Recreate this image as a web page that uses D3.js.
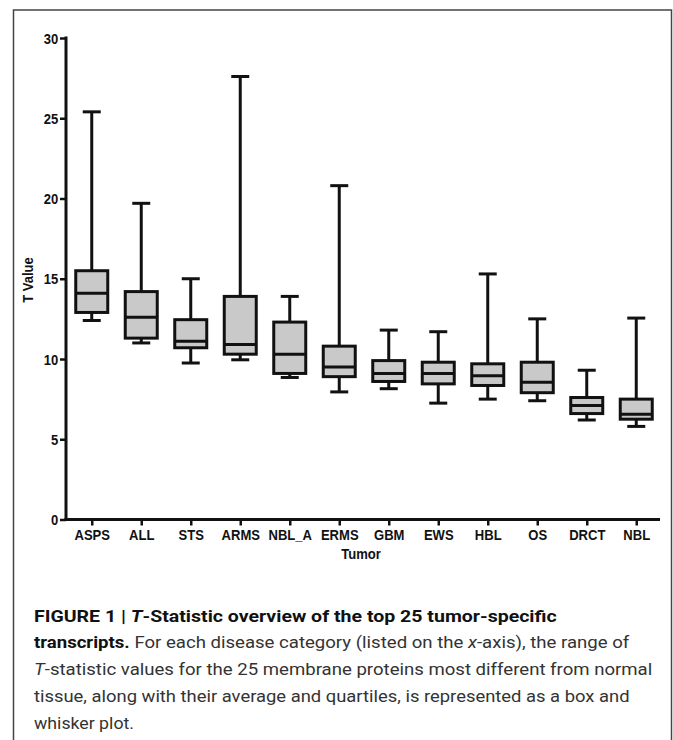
<!DOCTYPE html>
<html>
<head>
<meta charset="utf-8">
<script src="https://cdn.jsdelivr.net/npm/d3@7"></script>
<style>
  html, body { margin: 0; padding: 0; background: #fff; }
  svg { display: block; }
</style>
</head>
<body>
<script>
const categories = ["ASPS", "ALL", "STS", "ARMS", "NBL_A", "ERMS", "GBM", "EWS", "HBL", "OS", "DRCT", "NBL"];
const whiskerLow = [12.4, 11.0, 9.75, 9.95, 8.85, 7.95, 8.15, 7.25, 7.5, 7.4, 6.2, 5.8];
const q1 = [12.9, 11.3, 10.7, 10.3, 9.1, 8.9, 8.6, 8.45, 8.35, 7.9, 6.6, 6.25];
const median = [14.1, 12.6, 11.1, 10.9, 10.3, 9.5, 9.1, 9.1, 8.95, 8.55, 7.1, 6.55];
const q3 = [15.5, 14.2, 12.45, 13.9, 12.3, 10.8, 9.9, 9.8, 9.7, 9.8, 7.6, 7.5];
const whiskerHigh = [25.4, 19.7, 15.0, 27.6, 13.9, 20.8, 11.8, 11.7, 15.3, 12.5, 9.3, 12.55];
const yTicks = [0, 5, 10, 15, 20, 25, 30];

const w = 673;
const h = 740;
const boxW = 32;
const capW = 18;
const axisFont = "'Liberation Sans', Arial, Helvetica, sans-serif";
const squeeze = 0.9; // labels in the figure use a narrow bold face

const svg = d3.select("body")
  .append("svg")
  .attr("width", w)
  .attr("height", h);

// outer frame
svg.append("rect")
  .attr("x", 13.5)
  .attr("y", 10)
  .attr("width", 658)
  .attr("height", 745)
  .attr("fill", "none")
  .attr("stroke", "#444")
  .attr("stroke-width", 1.5);

const x = d3.scalePoint()
  .domain(categories)
  .range([67, 661])
  .padding(0.5);

const y = d3.scaleLinear()
  .domain([0, 30])
  .range([519.5, 38]);

const rows = categories.map((c, i) => ({
  cat: c, lo: whiskerLow[i], q1: q1[i], med: median[i], q3: q3[i], hi: whiskerHigh[i]
}));

// y axis
const yAxis = svg.append("g")
  .attr("transform", "translate(66,0)")
  .call(d3.axisLeft(y).tickValues(yTicks).tickSize(6).tickPadding(2).tickSizeOuter(0));

// x axis
const xAxis = svg.append("g")
  .attr("transform", `translate(0,${y(0)})`)
  .call(d3.axisBottom(x).tickSize(6).tickPadding(4).tickSizeOuter(0));

[yAxis, xAxis].forEach(g => {
  g.select(".domain").attr("stroke", "#111").attr("stroke-width", 3);
  g.selectAll(".tick line").attr("stroke", "#111").attr("stroke-width", 2.5);
  g.selectAll(".tick text")
    .attr("fill", "#111")
    .style("font-family", axisFont)
    .style("font-size", "14.5px")
    .style("font-weight", "bold");
});
xAxis.select(".domain").attr("d", `M64.5,0H660`);
yAxis.select(".domain").attr("d", `M0,${y(30) - 1.5}V${y(0) + 1.5}`);
yAxis.selectAll(".tick text").attr("dy", "0.36em").attr("x", -8.5)
  .attr("transform", `scale(${squeeze},1)`);
xAxis.selectAll(".tick text").attr("transform", `scale(${squeeze},1)`);

// axis titles
svg.append("text")
  .attr("transform", `translate(33,280) rotate(-90) scale(${squeeze},1)`)
  .attr("text-anchor", "middle")
  .style("font-family", axisFont)
  .style("font-size", "14.5px")
  .style("font-weight", "bold")
  .attr("fill", "#111")
  .text("T Value");

svg.append("text")
  .attr("transform", `translate(361,559) scale(${squeeze},1)`)
  .attr("text-anchor", "middle")
  .style("font-family", axisFont)
  .style("font-size", "14.5px")
  .style("font-weight", "bold")
  .attr("fill", "#111")
  .text("Tumor");

// box plots
const boxes = svg.append("g")
  .selectAll("g")
  .data(rows)
  .enter()
  .append("g")
  .attr("stroke", "#111")
  .attr("stroke-width", 3);

boxes.append("line")
  .attr("x1", d => x(d.cat))
  .attr("x2", d => x(d.cat))
  .attr("y1", d => y(d.hi))
  .attr("y2", d => y(d.lo));

boxes.append("line")
  .attr("x1", d => x(d.cat) - capW / 2)
  .attr("x2", d => x(d.cat) + capW / 2)
  .attr("y1", d => y(d.hi))
  .attr("y2", d => y(d.hi));

boxes.append("line")
  .attr("x1", d => x(d.cat) - capW / 2)
  .attr("x2", d => x(d.cat) + capW / 2)
  .attr("y1", d => y(d.lo))
  .attr("y2", d => y(d.lo));

boxes.append("rect")
  .attr("x", d => x(d.cat) - boxW / 2)
  .attr("y", d => y(d.q3))
  .attr("width", boxW)
  .attr("height", d => y(d.q1) - y(d.q3))
  .attr("fill", "#c9c9c9");

boxes.append("line")
  .attr("x1", d => x(d.cat) - boxW / 2)
  .attr("x2", d => x(d.cat) + boxW / 2)
  .attr("y1", d => y(d.med))
  .attr("y2", d => y(d.med));

// caption
const capFont = "Roboto, 'Liberation Sans', Arial, sans-serif";
const captionLines = [
  { y: 622, end: 557, parts: [
    { t: "FIGURE 1 | ", b: true }, { t: "T", b: true, i: true },
    { t: "-Statistic overview of the top 25 tumor-specific", b: true }] },
  { y: 648, end: 630, parts: [
    { t: "transcripts.", b: true }, { t: " For each disease category (listed on the " },
    { t: "x", i: true }, { t: "-axis), the range of" }] },
  { y: 675, end: 653, parts: [
    { t: "T", i: true }, { t: "-statistic values for the 25 membrane proteins most different from normal" }] },
  { y: 702, end: 630, parts: [
    { t: "tissue, along with their average and quartiles, is represented as a box and" }] },
  { y: 729, end: 134, parts: [{ t: "whisker plot." }] }
];

captionLines.forEach(line => {
  const g = svg.append("g");
  const t = g.append("text")
    .attr("x", 0)
    .attr("y", 0)
    .style("font-family", capFont)
    .style("font-size", "17px");
  line.parts.forEach(p => {
    t.append("tspan")
      .attr("fill", p.b ? "#111" : "#333")
      .style("font-weight", p.b ? "bold" : "normal")
      .style("font-style", p.i ? "italic" : "normal")
      .text(p.t);
  });
  const len = t.node().getComputedTextLength();
  const sx = (line.end - 34) / len;
  g.attr("transform", `translate(34,${line.y}) scale(${sx},1)`);
});
</script>
</body>
</html>
